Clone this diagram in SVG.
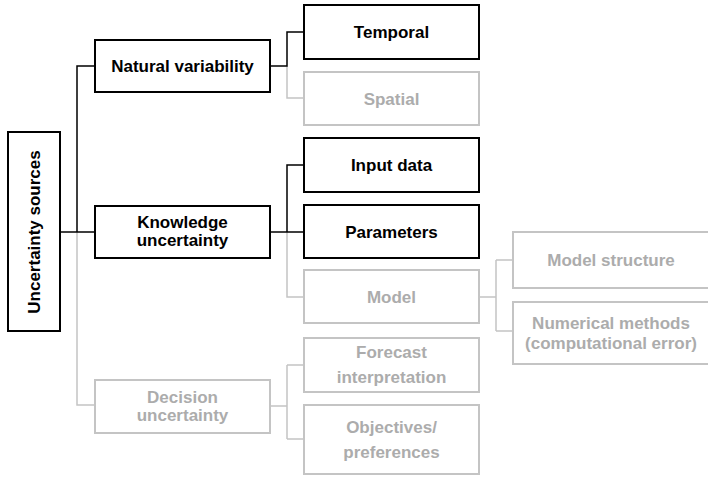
<svg xmlns="http://www.w3.org/2000/svg" width="708" height="477" viewBox="0 0 708 477">
<style>
.b{fill:#fff;stroke:#000;stroke-width:2}
.g{fill:#fff;stroke:#c4c4c4;stroke-width:2}
.t{font-family:"Liberation Sans",Arial,sans-serif;font-weight:bold;font-size:17px;text-anchor:middle;fill:#000}
.tg{font-family:"Liberation Sans",Arial,sans-serif;font-weight:bold;font-size:17px;text-anchor:middle;fill:#acacac}
.cb{fill:none;stroke:#000;stroke-width:1.5}
.cg{fill:none;stroke:#c4c4c4;stroke-width:1.5}
</style>
<rect width="708" height="477" fill="#fff"/>
<g id="connectors">
<path class="cg" d="M77 232V405H95"/>
<path class="cb" d="M60 232H95M77 232V66H95"/>
<path class="cg" d="M287 66V98H304"/>
<path class="cb" d="M270 66H287V32H304"/>
<path class="cg" d="M287 232V297H304"/>
<path class="cb" d="M270 232H304M287 232V165H304"/>
<path class="cg" d="M479 297H496M496 260V331M496 260H513M496 331H513"/>
<path class="cg" d="M270 406H287M287 365V439M287 365H304M287 439H304"/>
</g>
<g id="root"><rect class="b" x="8" y="132" width="52" height="199"/><text class="t" transform="translate(40 232) rotate(-90)">Uncertainty sources</text></g>
<g id="natural"><rect class="b" x="95" y="40" width="175" height="52"/><text class="t" x="182.5" y="72">Natural variability</text></g>
<g id="knowledge"><rect class="b" x="95" y="206" width="175" height="52"/><text class="t" x="182.5" y="228">Knowledge</text><text class="t" x="182.5" y="246">uncertainty</text></g>
<g id="decision"><rect class="g" x="95" y="380" width="175" height="53"/><text class="tg" x="182.5" y="403">Decision</text><text class="tg" x="182.5" y="421">uncertainty</text></g>
<g id="temporal"><rect class="b" x="304" y="5" width="175" height="54"/><text class="t" x="391.5" y="38">Temporal</text></g>
<g id="spatial"><rect class="g" x="304" y="72" width="175" height="53"/><text class="tg" x="391.5" y="104.5">Spatial</text></g>
<g id="input"><rect class="b" x="304" y="138" width="175" height="54"/><text class="t" x="391.5" y="171">Input data</text></g>
<g id="parameters"><rect class="b" x="304" y="205" width="175" height="53"/><text class="t" x="391.5" y="237.5">Parameters</text></g>
<g id="model"><rect class="g" x="304" y="270" width="175" height="53"/><text class="tg" x="391.5" y="302.5">Model</text></g>
<g id="forecast"><rect class="g" x="304" y="338" width="175" height="54"/><text class="tg" x="391.5" y="358">Forecast</text><text class="tg" x="391.5" y="383">interpretation</text></g>
<g id="objectives"><rect class="g" x="304" y="405" width="175" height="69"/><text class="tg" x="391.5" y="433">Objectives/</text><text class="tg" x="391.5" y="458">preferences</text></g>
<g id="structure"><rect class="g" x="513" y="232" width="196" height="56"/><text class="tg" x="611" y="266">Model structure</text></g>
<g id="numerical"><rect class="g" x="513" y="302" width="196" height="62"/><text class="tg" x="611" y="329">Numerical methods</text><text class="tg" x="611" y="349">(computational error)</text></g>
</svg>
